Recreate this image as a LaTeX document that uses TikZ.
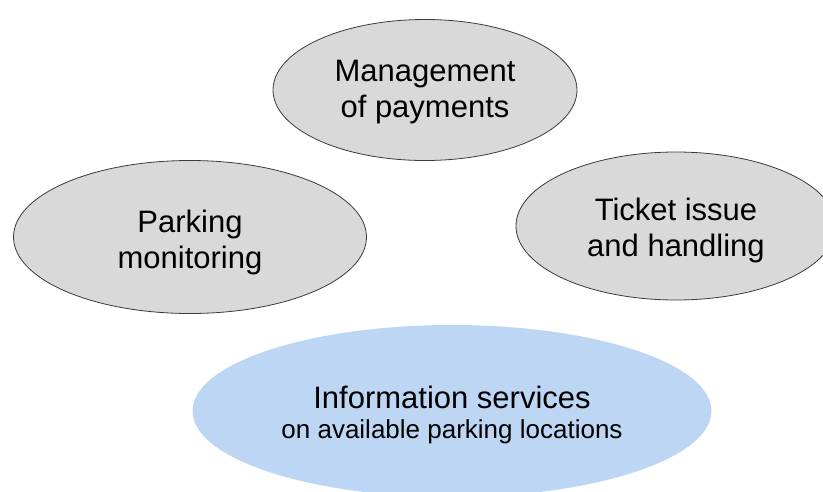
\documentclass[tikz,border=0pt]{standalone}
\usepackage{fontspec}
\setmainfont{Liberation Sans}
\usetikzlibrary{shapes.geometric}
\definecolor{grayfill}{HTML}{D9D9D9}
\definecolor{grayline}{HTML}{3A3A3A}
\definecolor{bluefill}{HTML}{BDD6F4}
\tikzset{
  grayell/.style={ellipse, draw=grayline, line width=0.8pt, fill=grayfill, inner sep=0pt},
  blueell/.style={ellipse, fill=bluefill, inner sep=0pt},
  bigtext/.style={align=center, inner sep=0pt, font=\fontsize{31}{36}\selectfont},
  smalltext/.style={align=center, inner sep=0pt, font=\fontsize{26}{30}\selectfont}
}
\begin{document}
\begin{tikzpicture}[x=1pt,y=-1pt]
\useasboundingbox (0,0) rectangle (823,491);
\clip (0,0) rectangle (823,491);
\node[grayell, minimum width=304pt, minimum height=141pt] (pay) at (425,90) {};
\node[grayell, minimum width=353pt, minimum height=153pt] (mon) at (190,237) {};
\node[grayell, minimum width=320pt, minimum height=148pt] (tick) at (676,226) {};
\node[blueell, minimum width=519pt, minimum height=172pt] (info) at (452,411) {};
\node[bigtext] (payt) at ([yshift=-2pt]pay.center) {Management\\of payments};
\node[bigtext] (mont) at ([yshift=-5.5pt]mon.center) {Parking\\monitoring};
\node[bigtext] (tickt) at ([yshift=-4pt]tick.center) {Ticket issue\\and handling};
\node[bigtext] (infot) at (452,397) {Information services};
\node[smalltext] (infos) at (452,432) {on available parking locations};
\end{tikzpicture}
\end{document}
